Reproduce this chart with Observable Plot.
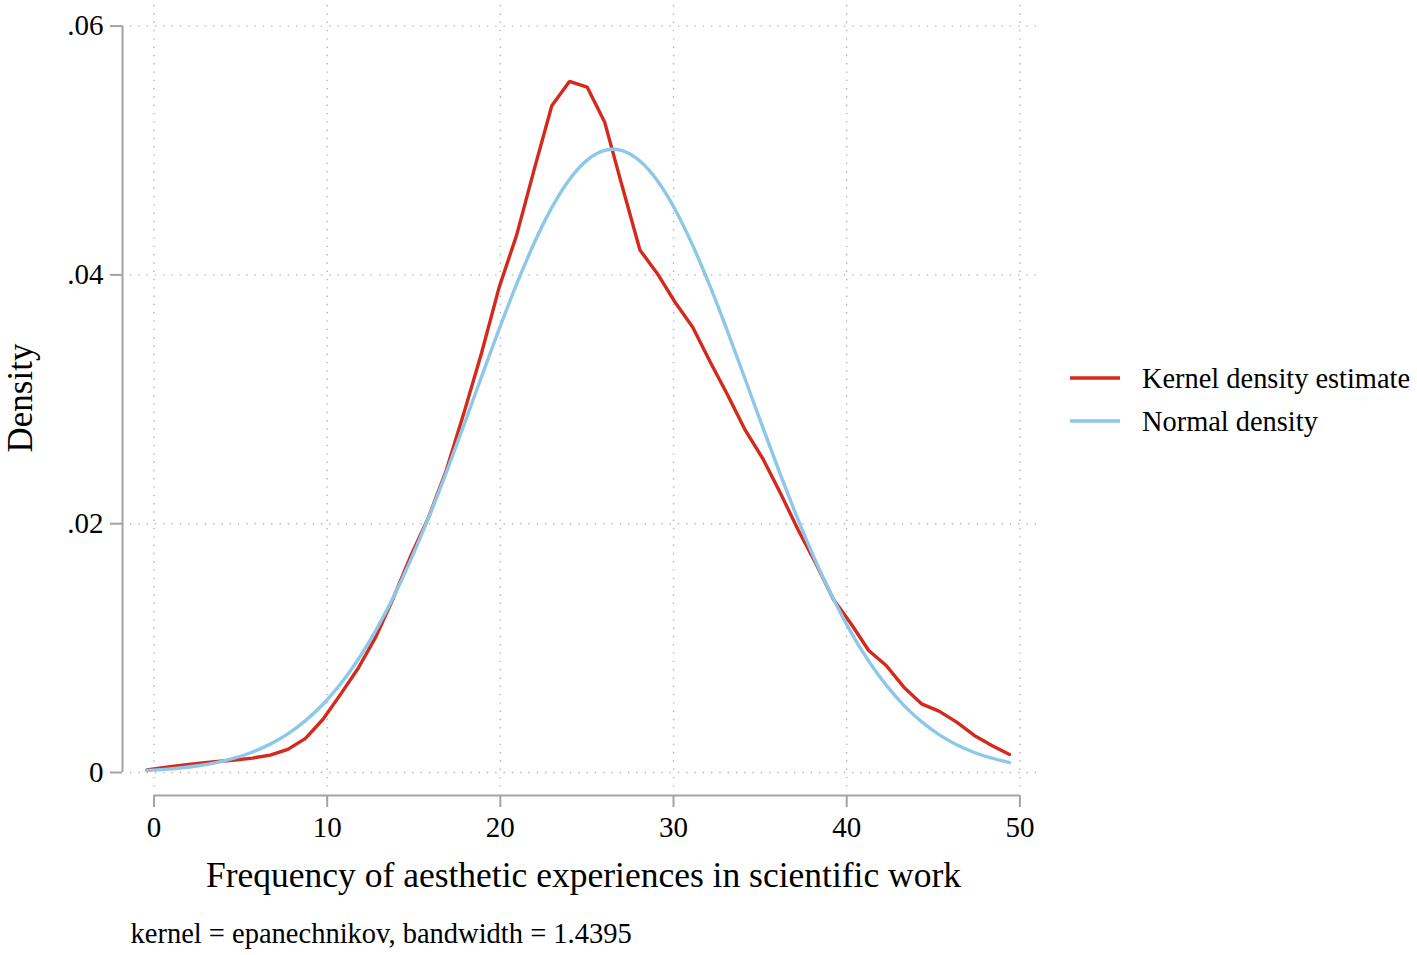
<!DOCTYPE html>
<html>
<head>
<meta charset="utf-8">
<script src="https://cdn.jsdelivr.net/npm/d3@7"></script>
<script src="https://cdn.jsdelivr.net/npm/@observablehq/plot@0.6"></script>
<style>
  html, body { margin: 0; padding: 0; background: #fff; }
  #chart { position: relative; width: 1417px; height: 955px; }
</style>
</head>
<body>
<div id="chart"></div>
<script>
// Evaluation points (x) of the density curves
const xs = [-0.40, 0.62, 1.63, 2.65, 3.67, 4.68, 5.70, 6.71, 7.73, 8.75,
            9.76, 10.78, 11.80, 12.81, 13.83, 14.84, 15.86, 16.88, 17.89, 18.91,
            19.93, 20.94, 21.96, 22.97, 23.99, 25.01, 26.02, 27.04, 28.06, 29.07,
            30.09, 31.11, 32.12, 33.14, 34.15, 35.17, 36.19, 37.20, 38.22, 39.24,
            40.25, 41.27, 42.28, 43.30, 44.32, 45.33, 46.35, 47.37, 48.38, 49.40];

// Kernel density estimate
const kdeValues = [0.00020, 0.00040, 0.00058, 0.00074, 0.00088, 0.00100, 0.00116, 0.00140, 0.00186, 0.00274,
                   0.00428, 0.00630, 0.00840, 0.01090, 0.01405, 0.01745, 0.02053, 0.02429, 0.02887, 0.03370,
                   0.03900, 0.04320, 0.04850, 0.05360, 0.05555, 0.05510, 0.05230, 0.04710, 0.04200, 0.04010,
                   0.03780, 0.03580, 0.03300, 0.03030, 0.02750, 0.02520, 0.02240, 0.01950, 0.01680, 0.01390,
                   0.01196, 0.00981, 0.00860, 0.00686, 0.00552, 0.00493, 0.00405, 0.00298, 0.00217, 0.00145];

// Normal density
const normalValues = [0.00017, 0.00025, 0.00038, 0.00056, 0.00082, 0.00117, 0.00165, 0.00228, 0.00310, 0.00417,
                      0.00549, 0.00713, 0.00910, 0.01142, 0.01411, 0.01713, 0.02050, 0.02413, 0.02791, 0.03180,
                      0.03564, 0.03925, 0.04258, 0.04541, 0.04767, 0.04923, 0.05001, 0.04999, 0.04915, 0.04756,
                      0.04526, 0.04236, 0.03905, 0.03538, 0.03157, 0.02768, 0.02388, 0.02030, 0.01694, 0.01392,
                      0.01127, 0.00895, 0.00702, 0.00540, 0.00409, 0.00305, 0.00223, 0.00161, 0.00115, 0.00080];

const xTicks = [0, 10, 20, 30, 40, 50];
const yTicks = [0, 0.02, 0.04, 0.06];
const yTickLabels = ["0", ".02", ".04", ".06"];

const seriesNames = ["Kernel density estimate", "Normal density"];
const seriesColors = ["#d42a1e", "#8dc8e8"];

const xLabel = "Frequency of aesthetic experiences in scientific work";
const yLabel = "Density";
const note = "kernel = epanechnikov, bandwidth = 1.4395";

const kde = xs.map((x, i) => ({x, y: kdeValues[i]}));
const normal = xs.map((x, i) => ({x, y: normalValues[i]}));

const xDomain = [-1.357, 50.96];
const yDomain = [-0.001447, 0.061656];
const axisGray = "#a3a3a3";
const gridGray = "#b3b3b3";
const font = "'Liberation Serif', 'Times New Roman', serif";

const plot = Plot.plot({
  width: 1417,
  height: 955,
  marginLeft: 130,
  marginRight: 381,
  marginTop: 5,
  marginBottom: 165,
  x: {domain: xDomain, axis: null},
  y: {domain: yDomain, axis: null},
  style: {fontFamily: font, background: "#fff", color: "#000", overflow: "visible"},
  marks: [
    // grid
    Plot.ruleY(yTicks, {stroke: gridGray, strokeWidth: 1.4, strokeDasharray: "1.4,6.9"}),
    Plot.ruleX(xTicks, {stroke: gridGray, strokeWidth: 1.4, strokeDasharray: "1.4,6.9"}),
    // y axis
    Plot.ruleX([xDomain[0]], {y1: yTicks[0], y2: yTicks[yTicks.length - 1], dx: -8, stroke: axisGray, strokeWidth: 2}),
    Plot.axisY(yTicks, {
      anchor: "left", tickSize: 12, tickPadding: 7, dx: -8, label: null,
      tickFormat: d => yTickLabels[yTicks.indexOf(d)],
      stroke: axisGray, strokeWidth: 2, fill: "#000", fontSize: 29, fontFamily: font
    }),
    // x axis
    Plot.ruleY([yDomain[0]], {x1: xTicks[0], x2: xTicks[xTicks.length - 1], dy: 5, stroke: axisGray, strokeWidth: 2}),
    Plot.axisX(xTicks, {
      anchor: "bottom", tickSize: 12, tickPadding: 9, dy: 5, label: null,
      tickFormat: d => String(d),
      stroke: axisGray, strokeWidth: 2, fill: "#000", fontSize: 29, fontFamily: font
    }),
    // curves
    Plot.line(kde, {x: "x", y: "y", stroke: seriesColors[0], strokeWidth: 3.4, strokeLinejoin: "miter"}),
    Plot.line(normal, {x: "x", y: "y", stroke: seriesColors[1], strokeWidth: 3.4, curve: "natural"}),
    // axis titles and note
    Plot.text([xLabel], {text: d => d, frameAnchor: "bottom", dy: 85, lineAnchor: "middle", textAnchor: "middle",
      fontSize: 35.5, fontFamily: font, fill: "#000"}),
    Plot.text([yLabel], {text: d => d, frameAnchor: "left", dx: -110, rotate: -90, lineAnchor: "middle", textAnchor: "middle",
      fontSize: 35, fontFamily: font, fill: "#000"}),
    Plot.text([note], {text: d => d, frameAnchor: "bottom-left", dy: 143, textAnchor: "start", lineAnchor: "middle",
      fontSize: 28.5, fontFamily: font, fill: "#000"})
  ]
});

document.getElementById("chart").appendChild(plot);

// legend in the right margin
const svg = d3.select(plot);
const legend = svg.append("g")
  .attr("font-family", font)
  .attr("font-size", 28.4)
  .attr("text-anchor", "start");
const legendTop = [378, 421];
seriesNames.forEach((name, i) => {
  legend.append("line")
    .attr("x1", 1070).attr("x2", 1120)
    .attr("y1", legendTop[i]).attr("y2", legendTop[i])
    .attr("stroke", seriesColors[i]).attr("stroke-width", 3.4);
  legend.append("text")
    .attr("x", 1142).attr("y", legendTop[i])
    .attr("dy", "0.34em")
    .attr("text-anchor", "start")
    .attr("fill", "#000")
    .text(name);
});
</script>
</body>
</html>
